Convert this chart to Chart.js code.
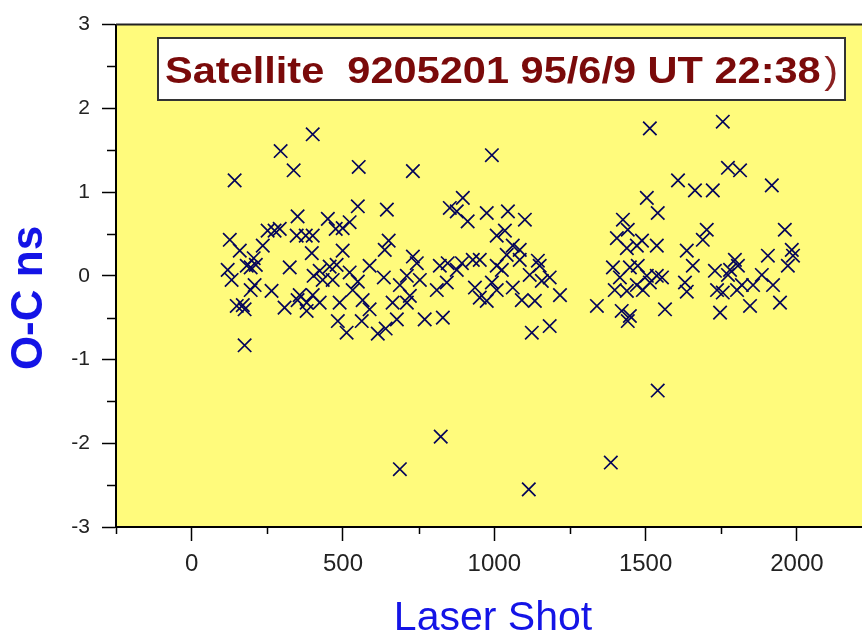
<!DOCTYPE html>
<html>
<head>
<meta charset="utf-8">
<script src="https://cdn.jsdelivr.net/npm/chart.js@4.4.0/dist/chart.umd.min.js"></script>
<style>
  html, body { margin: 0; padding: 0; background: #fff; }
  #wrap { width: 862px; height: 635px; position: relative; }
</style>
</head>
<body>
<div id="wrap"><canvas id="chart"></canvas></div>
<script>
// laser shot number and O-C residual (ns)
const shots = [
  119, 132, 126, 142, 159, 149, 169, 175, 175, 182, 205, 212, 195, 208, 195, 235, 251, 274, 291, 264,
  294, 307, 324, 337, 350, 347, 357, 350, 377, 400, 400, 397, 403, 423, 433, 456, 479, 466, 380, 423,
  400, 380, 450, 476, 499, 522, 549, 552, 499, 522, 549, 489, 532, 565, 588, 483, 562, 512, 615, 641,
  678, 588, 635, 638, 651, 645, 688, 711, 664, 711, 721, 731, 744, 731, 754, 770, 830, 810, 820, 846,
  843, 876, 893, 929, 952, 936, 952, 975, 992, 853, 876, 896, 912, 975, 992, 1008, 1035, 1045, 1101, 1061,
  1084, 1041, 1084, 1144, 1150, 1008, 1025, 1117, 1157, 1183, 1008, 1061, 1091, 1134, 1217, 1124, 1183, 1339, 1392, 1415,
  1448, 1474, 1504, 1514, 1537, 1554, 1398, 1438, 1471, 1491, 1421, 1441, 1448, 1564, 1630, 1636, 1425, 1441, 1405, 1438,
  1471, 1488, 1537, 1504, 1540, 1514, 1607, 1663, 1722, 1772, 1812, 1755, 1917, 1960, 1702, 1689, 1636, 1656, 1795, 1805,
  1779, 1904, 1983, 1987, 1970, 1729, 1772, 1884, 1855, 1921, 1736, 1755, 1802, 1818, 1746, 1845, 1944, 688, 823, 1114,
  1385, 1540
];
const residuals = [
  0.07, -0.05, 0.43, 1.14, 0.30, -0.36, -0.35, -0.40, -0.83, 0.12, 0.21, 0.13, 0.10, -0.11, -0.17, 0.36, 0.54, 0.54, 0.56, -0.18,
  1.49, -0.38, 0.10, 1.26, 0.71, 0.48, -0.23, -0.29, 0.48, 0.48, 1.69, 0.27, 0.00, 0.06, -0.05, 0.11, 0.13, -0.05, -0.32, -0.32,
  -0.23, -0.42, 0.68, 0.56, 0.57, 0.64, 0.83, 1.30, 0.30, 0.04, -0.07, -0.32, -0.17, -0.29, -0.40, -0.54, -0.54, -0.68, -0.69, -0.63,
  -0.52, 0.12, -0.02, 0.31, 0.42, 0.79, -0.11, 0.00, -0.32, -0.32, -0.24, 0.23, 0.15, 1.25, -0.05, -0.52, -0.50, -0.17, 0.12, 0.15,
  -0.08, 0.07, 0.15, 0.19, 0.19, -0.14, -0.26, -0.30, -0.08, 0.81, 0.77, 0.93, 0.65, 0.75, 1.44, 0.48, 0.54, 0.77, 0.67, 0.36,
  0.31, 0.25, 0.19, 0.18, 0.12, 0.12, 0.07, 0.01, -0.06, -0.02, -0.17, -0.14, -0.29, -0.30, -0.23, -0.68, -0.60, -0.36, 0.10, -0.02,
  0.10, 0.12, 0.00, -0.08, 0.00, -0.02, -0.17, -0.18, -0.11, -0.17, -0.42, -0.54, -0.48, -0.40, -0.08, -0.19, 0.67, 0.55, 0.45, 0.33,
  0.36, 0.42, 0.36, 0.93, 0.75, 1.76, 1.14, 1.02, 1.02, 1.29, 1.26, 1.84, 1.08, 0.55, 0.55, 0.43, 0.30, 0.12, 0.19, 0.12,
  0.07, 0.24, 0.31, 0.24, 0.12, 0.06, 0.01, 0.01, -0.11, -0.11, -0.17, -0.20, -0.17, -0.11, -0.44, -0.36, -0.32, -2.31, -1.92, -2.55,
  -2.23, -1.37
];

const xTicks = [-250, 0, 250, 500, 750, 1000, 1250, 1500, 1750, 2000];
const yTicks = [-3, -2.5, -2, -1.5, -1, -0.5, 0, 0.5, 1, 1.5, 2, 2.5, 3];
const titleText = 'Satellite  9205201 95/6/9 UT 22:38';
const titleEnd = ')';
const xTitle = 'Laser Shot';
const yTitle = 'O-C ns';

const FONT = "Arial, 'Liberation Sans', sans-serif";

const framePlugin = {
  id: 'frame',
  beforeDraw(chart) {
    const a = chart.chartArea;
    const ctx = chart.ctx;
    ctx.save();
    ctx.fillStyle = '#fffb7c';
    ctx.fillRect(a.left, a.top, a.right - a.left, a.bottom - a.top);
    ctx.restore();
  },
  afterDraw(chart) {
    const a = chart.chartArea;
    const ctx = chart.ctx;
    const xs = chart.scales.x;
    const ys = chart.scales.y;
    ctx.save();

    // top border
    ctx.strokeStyle = '#222';
    ctx.lineWidth = 2;
    ctx.beginPath();
    ctx.moveTo(a.left, a.top);
    ctx.lineTo(a.right, a.top);
    ctx.stroke();

    // minor ticks
    ctx.strokeStyle = '#000';
    ctx.lineWidth = 1.5;
    ctx.beginPath();
    xTicks.forEach(v => {
      if (v % 500 !== 0) {
        const px = Math.round(xs.getPixelForValue(v)) + 0.5;
        ctx.moveTo(px, a.bottom);
        ctx.lineTo(px, a.bottom + 7);
      }
    });
    yTicks.forEach(v => {
      if (v % 1 !== 0) {
        const py = Math.round(ys.getPixelForValue(v)) + 0.5;
        ctx.moveTo(a.left - 9, py);
        ctx.lineTo(a.left, py);
      }
    });
    ctx.stroke();

    // title box
    ctx.fillStyle = '#ffffff';
    ctx.fillRect(158, 38, 687, 62);
    ctx.strokeStyle = '#333';
    ctx.lineWidth = 2;
    ctx.strokeRect(158, 38, 687, 62);

    ctx.textAlign = 'left';
    ctx.textBaseline = 'alphabetic';
    ctx.font = 'bold 36px ' + FONT;
    const w1 = ctx.measureText(titleText).width + 3;
    ctx.font = '36px ' + FONT;
    const w2 = ctx.measureText(titleEnd).width;
    const sx = 673 / (w1 + w2);
    ctx.save();
    ctx.translate(165, 83);
    ctx.scale(sx, 1);
    ctx.fillStyle = '#7a0a0a';
    ctx.font = 'bold 36px ' + FONT;
    ctx.fillText(titleText, 0, 0);
    ctx.fillStyle = '#8a2020';
    ctx.font = '36px ' + FONT;
    ctx.fillText(titleEnd, w1, 0);
    ctx.restore();

    // axis titles
    ctx.fillStyle = '#1414e6';
    ctx.font = '41px ' + FONT;
    ctx.textAlign = 'center';
    ctx.fillText(xTitle, 493, 630);

    ctx.save();
    ctx.translate(42, 298);
    ctx.rotate(-Math.PI / 2);
    ctx.font = 'bold 44px ' + FONT;
    ctx.fillText(yTitle, 0, 0);
    ctx.restore();

    ctx.restore();
  }
};

const chart = new Chart(document.getElementById('chart'), {
  type: 'scatter',
  data: {
    datasets: [{
      data: shots.map((x, i) => ({ x: x, y: residuals[i] })),
      pointStyle: 'crossRot',
      pointRadius: 9.5,
      borderColor: '#05055a',
      backgroundColor: '#05055a',
      borderWidth: 1.7,
      showLine: false
    }]
  },
  options: {
    responsive: true,
    maintainAspectRatio: false,
    animation: false,
    events: [],
    layout: { autoPadding: false, padding: { top: 22, left: 0, right: 0, bottom: 0 } },
    plugins: {
      legend: { display: false },
      title: { display: false },
      tooltip: { enabled: false }
    },
    scales: {
      x: {
        type: 'linear',
        min: -250,
        max: 2215,
        afterBuildTicks: s => { s.ticks = xTicks.map(v => ({ value: v })); },
        afterFit: s => { s.height = 108; s.paddingLeft = 0; s.paddingRight = 0; },
        border: { display: true, color: '#000', width: 2 },
        grid: {
          drawOnChartArea: false,
          drawTicks: true,
          tickLength: 14,
          tickWidth: 1.5,
          tickColor: c => (c.tick && c.tick.value % 500 === 0) ? '#000' : 'rgba(0,0,0,0)'
        },
        ticks: {
          autoSkip: false,
          maxRotation: 0,
          padding: 9,
          color: '#222',
          font: { family: FONT, size: 24 },
          callback: v => (v % 500 === 0 ? String(v) : '')
        }
      },
      y: {
        type: 'linear',
        min: -3,
        max: 3,
        afterBuildTicks: s => { s.ticks = yTicks.map(v => ({ value: v })); },
        afterFit: s => { s.width = 116; },
        border: { display: true, color: '#000', width: 2 },
        grid: {
          drawOnChartArea: false,
          drawTicks: true,
          tickLength: 14,
          tickWidth: 1.5,
          tickColor: c => (c.tick && c.tick.value % 1 === 0) ? '#000' : 'rgba(0,0,0,0)'
        },
        ticks: {
          autoSkip: false,
          padding: 12,
          color: '#222',
          font: { family: FONT, size: 21 },
          callback: v => (v % 1 === 0 ? String(v) : '')
        }
      }
    }
  },
  plugins: [framePlugin]
});
</script>
</body>
</html>
